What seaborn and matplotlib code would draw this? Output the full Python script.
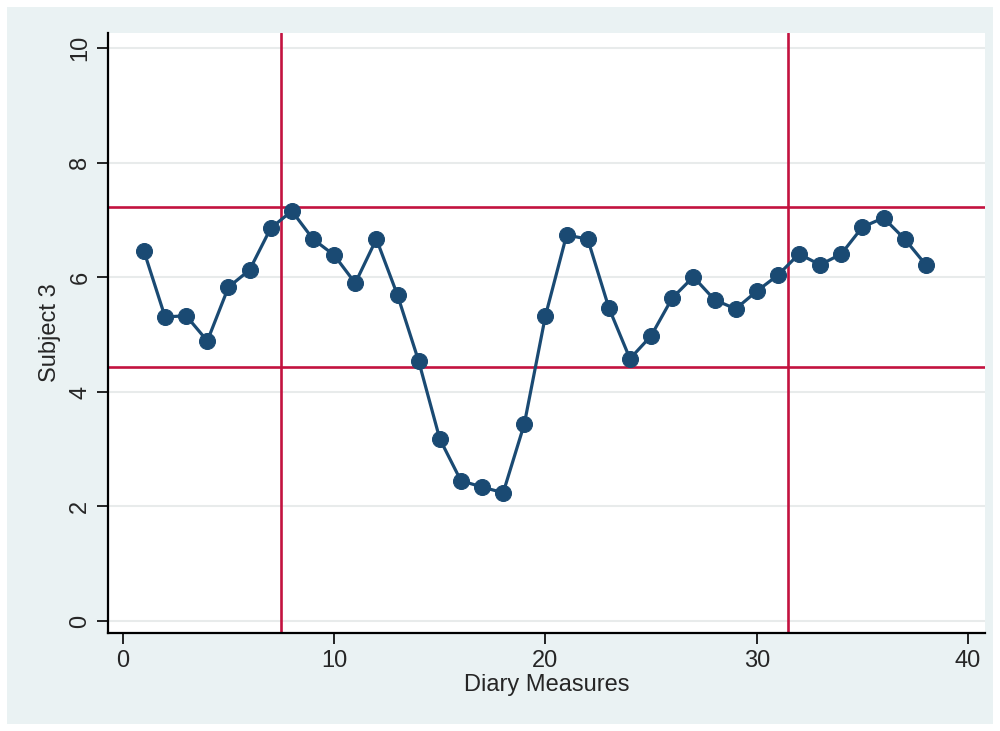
import seaborn as sns
import matplotlib.pyplot as plt
import pandas as pd

# Data
measures = list(range(1, 39))
scores = [6.46, 5.31, 5.33, 4.89, 5.83, 6.13, 6.86, 7.16, 6.67, 6.39,
          5.90, 6.67, 5.69, 4.54, 3.18, 2.45, 2.34, 2.24, 3.44, 5.33,
          6.74, 6.67, 5.47, 4.58, 4.98, 5.64, 6.01, 5.61, 5.45, 5.76,
          6.04, 6.41, 6.22, 6.41, 6.88, 7.04, 6.67, 6.22]
vlines = [7.5, 31.5]
hlines = [7.23, 4.43]

df = pd.DataFrame({'Diary Measures': measures, 'Subject 3': scores})

sns.set_style('white')
plt.rcParams['font.family'] = ['Liberation Sans Narrow', 'Liberation Sans', 'DejaVu Sans']

fig = plt.figure(figsize=(10, 7.31), dpi=100)
fig.patch.set_facecolor('#eaf2f3')
fig.patch.set_edgecolor('white')
fig.patch.set_linewidth(10)
ax = fig.add_axes([0.108, 0.134, 0.877, 0.821])
ax.set_facecolor('white')

# Grid
for y in [0, 2, 4, 6, 8, 10]:
    ax.axhline(y, color='#e8ebeb', lw=1.5, zorder=0)

# Reference lines
red = '#c3123f'
for x in vlines:
    ax.axvline(x, color=red, lw=1.9, zorder=1)
for y in hlines:
    ax.axhline(y, color=red, lw=1.9, zorder=1)

sns.lineplot(data=df, x='Diary Measures', y='Subject 3', ax=ax, color='#1a4a73',
             lw=2.3, marker='o', markersize=11.5, markeredgecolor='#1a4a73', zorder=3)

ax.set_xlim(-0.7, 40.8)
ax.set_ylim(-0.21, 10.27)
ax.set_xticks([0, 10, 20, 30, 40])
ax.set_yticks([0, 2, 4, 6, 8, 10])
ax.tick_params(axis='both', direction='out', length=8, width=1.2, color='black',
               labelsize=17, pad=4, left=True, bottom=True)
for lab in ax.get_yticklabels():
    lab.set_rotation(90)
    lab.set_va('center')

for s in ['top', 'right']:
    ax.spines[s].set_visible(False)
for s in ['left', 'bottom']:
    ax.spines[s].set_color('black')
    ax.spines[s].set_linewidth(1.6)

ax.set_xlabel('Diary Measures', fontsize=17, labelpad=2)
ax.set_ylabel('Subject 3', fontsize=17, labelpad=6)

plt.savefig('out.png', dpi=100, facecolor=fig.get_facecolor(), edgecolor='white')
